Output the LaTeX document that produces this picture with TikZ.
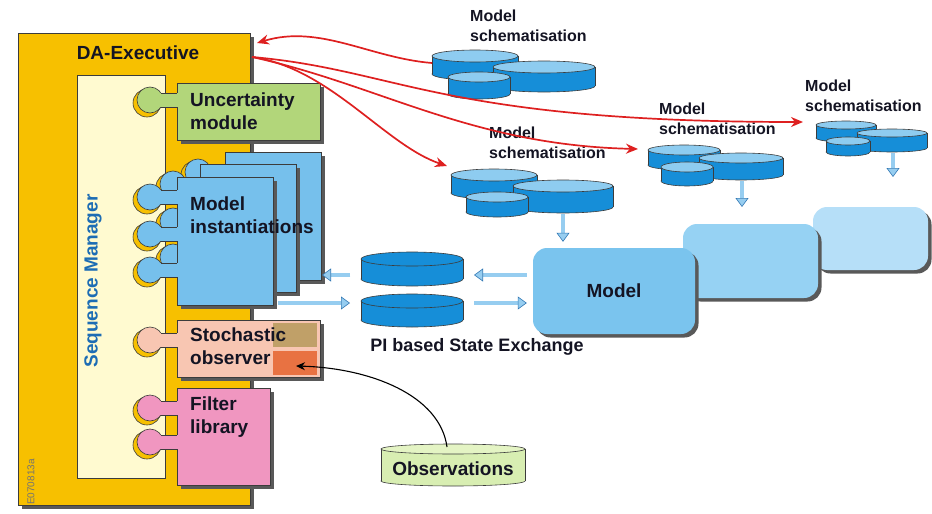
\documentclass[tikz,border=0pt]{standalone}
\usepackage{fontspec}
\setmainfont{Liberation Sans}
\usetikzlibrary{arrows.meta,shadows,calc}

\definecolor{execorange}{RGB}{247,192,0}
\definecolor{seqyellow}{RGB}{255,250,208}
\definecolor{uncgreen}{RGB}{178,214,122}
\definecolor{pageblue}{RGB}{118,192,236}
\definecolor{obssalmon}{RGB}{248,198,178}
\definecolor{obstan}{RGB}{192,160,104}
\definecolor{obsorange}{RGB}{232,114,66}
\definecolor{filterpink}{RGB}{240,150,192}
\definecolor{diskblue}{RGB}{22,142,216}
\definecolor{disktop}{RGB}{142,204,240}
\definecolor{modelA}{RGB}{122,196,238}
\definecolor{modelB}{RGB}{150,210,243}
\definecolor{modelC}{RGB}{182,223,248}
\definecolor{obsgreen}{RGB}{216,238,178}
\definecolor{obsgreentop}{RGB}{228,244,196}
\definecolor{arrred}{RGB}{222,32,32}
\definecolor{seqblue}{RGB}{28,108,180}
\definecolor{txtdark}{RGB}{20,20,35}
\definecolor{edge}{RGB}{60,60,60}
\definecolor{xchgblue}{RGB}{150,205,240}
\definecolor{xchgedge}{RGB}{50,120,180}

% plug on the left of a box, sitting in a gold socket
\newcommand\knob[3]{%
  \filldraw[fill=execorange,draw=edge,line width=0.6pt] (#1-3,#2+3) circle [radius=14];
  \filldraw[fill=#3,draw=edge,line width=0.6pt] (#1,#2) circle [radius=13];
  \fill[#3] (#1+6,#2-7) rectangle (#1+27.6,#2+7);
  \draw[edge,line width=0.6pt] (#1+10.9,#2-7) -- (#1+27,#2-7) (#1+10.9,#2+7) -- (#1+27,#2+7);
}
% one model instantiation sheet
\newcommand\mpage[2]{%
  \path[shd,fill=pageblue,draw=edge,line width=0.6pt] (#1,#2) rectangle (#1+96,#2+128);
  \knob{#1-27}{#2+20}{pageblue}\knob{#1-27}{#2+57}{pageblue}\knob{#1-27}{#2+93}{pageblue}
}
% disk: cx, top y, bottom y, rx, ry, body colour, top colour
\newcommand\disk[7]{%
  \filldraw[fill=#6,draw=edge,line width=0.6pt] (#1,#3) ellipse [x radius=#4, y radius=#5];
  \fill[#6] (#1-#4,#2) rectangle (#1+#4,#3);
  \draw[edge,line width=0.6pt] (#1-#4,#2) -- (#1-#4,#3) (#1+#4,#2) -- (#1+#4,#3);
  \filldraw[fill=#7,draw=edge,line width=0.6pt] (#1,#2) ellipse [x radius=#4, y radius=#5];
}

\tikzset{
  shd/.style={drop shadow={shadow xshift=3.5pt,shadow yshift=-3.5pt,fill=black!65,opacity=1}},
  lbl/.style={font=\bfseries\fontsize{19}{23.5}\selectfont,text=txtdark,align=left,inner sep=0pt},
  schem/.style={font=\bfseries\fontsize{16}{19.5}\selectfont,text=txtdark,align=left,inner sep=0pt,anchor=west},
  modelbox/.style={shd,rounded corners=14pt,inner sep=0pt},
  redarr/.style={draw=arrred,line width=1.7pt,-{Stealth[length=12pt,width=10pt]}},
  xchg/.style={draw=xchgedge,double=xchgblue,double distance=3.2pt,line width=0.6pt,
    -{Triangle[length=9pt,width=13pt,fill=xchgblue]}}
}

\begin{document}
\begin{tikzpicture}[x=1pt,y=-1pt]
  \useasboundingbox (0,0) rectangle (932,514);

  % executive frame and sequence manager
  \path[shd,fill=execorange,draw=edge,line width=0.6pt] (18,33) rectangle (250,505);
  \fill[seqyellow,draw=edge,line width=0.6pt] (77,75) rectangle (165,478);
  \node[lbl] (exectxt) at (138,53) {DA-Executive};
  \node[lbl,text=seqblue,rotate=90] (seqtxt) at (93,281) {Sequence Manager};
  \node[font=\fontsize{10}{11}\selectfont,text=black!55,rotate=90,inner sep=0pt] (code) at (31,482) {E070813a};

  % uncertainty module
  \path[shd,fill=uncgreen,draw=edge,line width=0.6pt] (177,83) rectangle (320,140);
  \knob{150}{100}{uncgreen}
  \node[lbl,anchor=west] (unctxt) at (190,111) {Uncertainty\\module};

  % model instantiations
  \mpage{225}{152}
  \mpage{200}{164}
  \mpage{177}{177}
  \node[lbl,anchor=west] (insttxt) at (190,215) {Model\\instantiations};

  % stochastic observer
  \path[shd,fill=obssalmon,draw=edge,line width=0.6pt] (177,320) rectangle (320,377);
  \fill[obstan] (273,323) rectangle (317,347);
  \fill[obsorange] (273,351) rectangle (317,375);
  \knob{150}{340}{obssalmon}
  \node[lbl,anchor=west] (stochtxt) at (190,346) {Stochastic\\observer};
  \coordinate (obsin) at (296,366);

  % filter library
  \path[shd,fill=filterpink,draw=edge,line width=0.6pt] (177,388) rectangle (270,485);
  \knob{150}{408}{filterpink}
  \knob{150}{442}{filterpink}
  \node[lbl,anchor=west] (filttxt) at (190,417) {Filter\\library};

  % models
  \node[modelbox,fill=modelC,minimum width=115pt,minimum height=63pt] (model3) at (870.5,238.5) {};
  \node[modelbox,fill=modelB,minimum width=135pt,minimum height=74pt] (model2) at (750.5,261) {};
  \node[modelbox,fill=modelA,minimum width=162pt,minimum height=86pt,lbl] (model) at (614,291) {Model};

  % state exchange
  \disk{412}{259}{279}{51}{7}{diskblue}{diskblue}
  \disk{412}{301}{320}{51}{7}{diskblue}{diskblue}
  \node[lbl,font=\bfseries\fontsize{18}{22}\selectfont] (pitxt) at (477,347) {PI based State Exchange};
  \coordinate (piup) at (412,275);
  \coordinate (pidown) at (412,303);
  \draw[xchg] ($(piup)+(-62,0)$) -- ($(piup)+(-90,0)$);
  \draw[xchg] ($(model.west |- piup)+(-6,0)$) -- ($(piup)+(62,0)$);
  \draw[xchg] ($(pidown)+(-134,0)$) -- ($(pidown)+(-62,0)$);
  \draw[xchg] ($(pidown)+(62,0)$) -- ($(model.west |- pidown)+(-6,0)$);

  % model schematisations
  \node[schem] (schemA) at (470,26) {Model\\schematisation};
  \disk{475}{56}{74}{43}{6}{diskblue}{disktop}
  \disk{544}{67}{86}{51}{6}{diskblue}{disktop}
  \disk{479}{77}{94}{31}{5}{diskblue}{disktop}
  \coordinate (schA) at (432,63);

  \node[schem] (schemB) at (489,143) {Model\\schematisation};
  \disk{494}{175}{193}{43}{6}{diskblue}{disktop}
  \disk{563}{186}{207}{50}{6}{diskblue}{disktop}
  \disk{497}{197}{212}{31}{5}{diskblue}{disktop}
  \coordinate (schB) at (447,166);
  \draw[xchg] (563,214) -- ($(model.north -| 563,0)+(0,-6)$);

  \node[schem] (schemC) at (659,119) {Model\\schematisation};
  \disk{684}{150}{165}{36}{5}{diskblue}{disktop}
  \disk{741}{158}{175}{42}{5}{diskblue}{disktop}
  \disk{687}{167}{181}{26}{5}{diskblue}{disktop}
  \coordinate (schC) at (638,149);
  \draw[xchg] (742,181) -- (742,207);

  \node[schem] (schemD) at (805,96) {Model\\schematisation};
  \disk{846}{125}{138}{30}{4}{diskblue}{disktop}
  \disk{892}{133}{148}{35}{4}{diskblue}{disktop}
  \disk{848}{141}{152}{22}{4}{diskblue}{disktop}
  \coordinate (schD) at (803,122);
  \draw[xchg] (893,153) -- (893,177);

  % executive links
  \coordinate (execA) at (257,43);
  \coordinate (execB) at (252,57);
  \draw[redarr] (schA) .. controls (370,58) and (320,24) .. (execA);
  \draw[redarr] (execB) .. controls (400,70) and (440,122) .. (schD);
  \draw[redarr] (execB) .. controls (380,85) and (470,145) .. (schC);
  \draw[redarr] (execB) .. controls (330,68) and (385,145) .. (schB);

  % observations
  \disk{453}{449}{481}{72}{5}{obsgreen}{obsgreentop}
  \node[lbl] (obs) at (453,469) {Observations};
  \coordinate (obstop) at (447,447);
  \draw[line width=1.1pt,-{Stealth[length=9pt,width=8pt]}] (obstop) .. controls (440,395) and (370,368) .. (obsin);
\end{tikzpicture}
\end{document}
